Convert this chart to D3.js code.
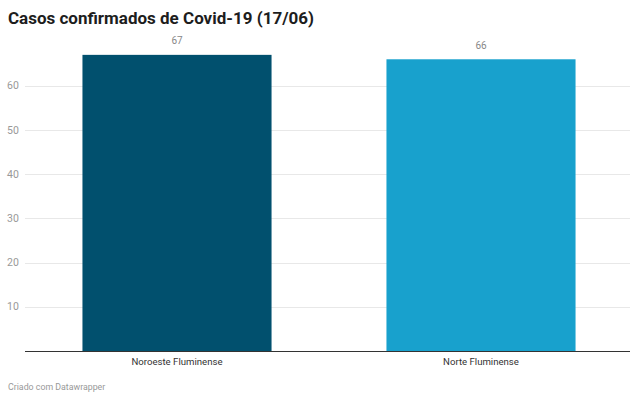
<!DOCTYPE html>
<html>
<head>
<meta charset="utf-8">
<script src="https://cdn.jsdelivr.net/npm/d3@7"></script>
<style>
  body { margin: 0; background: #fff; }
  text { font-family: Roboto, "Noto Sans", sans-serif; }
</style>
</head>
<body>
<div id="chart"></div>
<script>
const categories = ["Noroeste Fluminense", "Norte Fluminense"];
const values = [67, 66];
const barColors = ["#01506e", "#18a1cd"];
const yTicks = [10, 20, 30, 40, 50, 60];

const width = 640, height = 406;
const plot = {left: 25, right: 633, bottom: 351};

const svg = d3.select("#chart")
    .append("svg")
    .attr("width", width)
    .attr("height", height);

// title
svg.append("text")
    .attr("x", 8)
    .attr("y", 24)
    .attr("font-size", 17)
    .attr("font-weight", "bold")
    .attr("fill", "#1d1d1d")
    .text("Casos confirmados de Covid-19 (17/06)");

const x = d3.scaleBand()
    .domain(categories)
    .range([plot.left, plot.right])
    .paddingInner(0.378)
    .paddingOuter(0.189);

const y = d3.scaleLinear()
    .domain([0, 70])
    .range([plot.bottom, plot.bottom - 70 * 4.42]);

// gridlines
svg.append("g")
    .selectAll("line")
    .data(yTicks)
    .join("line")
    .attr("x1", plot.left)
    .attr("x2", 630)
    .attr("y1", d => Math.round(y(d)) + 0.5)
    .attr("y2", d => Math.round(y(d)) + 0.5)
    .attr("stroke", "#e8e8e8");

// y tick labels
svg.append("g")
    .selectAll("text")
    .data(yTicks)
    .join("text")
    .attr("x", 7)
    .attr("y", d => y(d))
    .attr("dy", "0.35em")
    .attr("font-size", 10.5)
    .attr("fill", "#999")
    .text(d => d);

// bars
svg.append("g")
    .selectAll("rect")
    .data(values)
    .join("rect")
    .attr("x", (d, i) => x(categories[i]))
    .attr("y", d => y(d))
    .attr("width", x.bandwidth())
    .attr("height", d => y(0) - y(d))
    .attr("fill", (d, i) => barColors[i]);

// value labels
svg.append("g")
    .selectAll("text")
    .data(values)
    .join("text")
    .attr("x", (d, i) => x(categories[i]) + x.bandwidth() / 2)
    .attr("y", d => y(d) - 10.5)
    .attr("text-anchor", "middle")
    .attr("font-size", 10)
    .attr("fill", "#888")
    .text(d => d);

// baseline
svg.append("line")
    .attr("x1", plot.left)
    .attr("x2", 630)
    .attr("y1", plot.bottom + 0.5)
    .attr("y2", plot.bottom + 0.5)
    .attr("stroke", "#333");

// category labels
svg.append("g")
    .selectAll("text")
    .data(categories)
    .join("text")
    .attr("x", d => x(d) + x.bandwidth() / 2)
    .attr("y", plot.bottom + 13.5)
    .attr("text-anchor", "middle")
    .attr("font-size", 9.6)
    .attr("fill", "#333")
    .text(d => d);

// footer
svg.append("text")
    .attr("x", 8)
    .attr("y", 389.5)
    .attr("font-size", 8.8)
    .attr("fill", "#999")
    .text("Criado com Datawrapper");
</script>
</body>
</html>
